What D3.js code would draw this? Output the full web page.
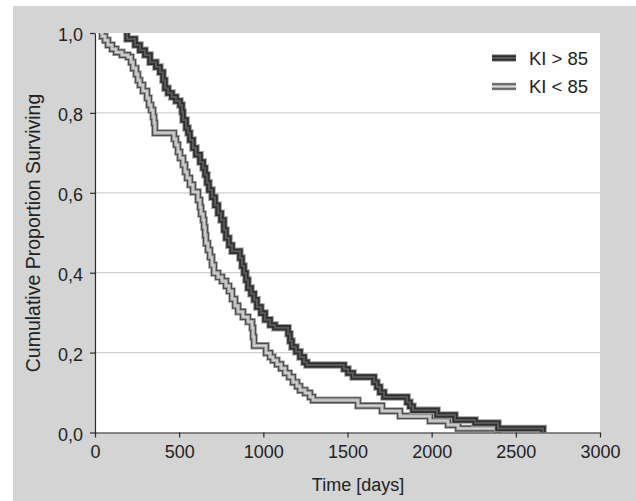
<!DOCTYPE html>
<html>
<head>
<meta charset="utf-8">
<script src="https://cdn.jsdelivr.net/npm/d3@7"></script>
<style>
  html, body { margin: 0; padding: 0; background: #ffffff; }
  svg { display: block; font-family: "Liberation Sans", Arial, Helvetica, sans-serif; }
</style>
</head>
<body>
<svg id="chart" width="636" height="501"></svg>
<script>
// Kaplan–Meier survival estimates, two Karnofsky-index groups.
// Each curve: start time at 100 % survival, then [day, proportion after the drop].
const groups = ["KI > 85", "KI < 85"];

const startHigh = 190;
const stepsHigh = [
  [190, 0.985], [238, 0.970], [267, 0.957], [297, 0.945], [327, 0.927],
  [362, 0.915], [386, 0.902], [404, 0.882], [416, 0.862], [434, 0.850],
  [457, 0.840], [481, 0.830], [505, 0.820], [517, 0.802], [523, 0.782],
  [541, 0.762], [553, 0.750], [564, 0.732], [582, 0.712], [600, 0.695],
  [624, 0.677], [642, 0.662], [654, 0.645], [665, 0.625], [677, 0.607],
  [695, 0.589], [713, 0.569], [731, 0.549], [749, 0.532], [766, 0.507],
  [778, 0.487], [796, 0.469], [814, 0.454], [861, 0.437], [873, 0.417],
  [885, 0.399], [897, 0.382], [909, 0.362], [927, 0.347], [945, 0.332],
  [962, 0.314], [986, 0.299], [1010, 0.282], [1040, 0.269], [1069, 0.262],
  [1147, 0.247], [1158, 0.229], [1170, 0.214], [1194, 0.202], [1218, 0.189],
  [1242, 0.176], [1259, 0.169], [1479, 0.159], [1503, 0.149], [1533, 0.139],
  [1658, 0.126], [1675, 0.114], [1693, 0.101], [1717, 0.089], [1854, 0.076],
  [1871, 0.066], [1889, 0.056], [2032, 0.044], [2139, 0.031], [2258, 0.024],
  [2394, 0.010], [2662, 0.000]
];

const startLow = 30;
const stepsLow = [
  [42, 0.992], [59, 0.982], [77, 0.970], [101, 0.960], [125, 0.952],
  [160, 0.945], [196, 0.940], [214, 0.927], [226, 0.912], [244, 0.897],
  [255, 0.882], [267, 0.870], [285, 0.855], [309, 0.837], [321, 0.820],
  [333, 0.807], [345, 0.790], [351, 0.775], [356, 0.750], [469, 0.735],
  [481, 0.720], [493, 0.702], [505, 0.687], [523, 0.670], [535, 0.652],
  [547, 0.637], [564, 0.620], [582, 0.602], [612, 0.582], [624, 0.564],
  [630, 0.547], [642, 0.532], [648, 0.514], [654, 0.494], [659, 0.474],
  [671, 0.457], [683, 0.439], [695, 0.419], [707, 0.399], [731, 0.389],
  [754, 0.379], [778, 0.367], [796, 0.354], [814, 0.334], [832, 0.317],
  [850, 0.302], [879, 0.289], [909, 0.277], [933, 0.262], [939, 0.239],
  [945, 0.217], [1016, 0.199], [1040, 0.189], [1057, 0.181], [1081, 0.171],
  [1105, 0.161], [1129, 0.149], [1153, 0.139], [1176, 0.126], [1200, 0.116],
  [1218, 0.106], [1248, 0.099], [1277, 0.089], [1295, 0.081], [1562, 0.067],
  [1705, 0.054], [1812, 0.041], [1990, 0.029], [2097, 0.019], [2157, 0.010],
  [2394, 0.000]
];

const xTicks = [0, 500, 1000, 1500, 2000, 2500, 3000];
const yTicks = [0, 0.2, 0.4, 0.6, 0.8, 1.0];
const yGrid = [0.2, 0.4, 0.6, 0.8];

const svg = d3.select("#chart");
const W = 636, H = 501;
const plot = { left: 95, right: 600, top: 33, bottom: 432.5 };

// grey frame and white plotting area
svg.append("rect").attr("x", 13).attr("y", 6).attr("width", W - 13).attr("height", H - 6)
  .attr("fill", "#d4d4d5");
svg.append("rect").attr("x", plot.left).attr("y", plot.top)
  .attr("width", plot.right - plot.left).attr("height", plot.bottom - plot.top)
  .attr("fill", "#ffffff");

const x = d3.scaleLinear().domain([0, 3000]).range([plot.left, plot.right]);
const y = d3.scaleLinear().domain([0, 1]).range([plot.bottom, plot.top]);

// horizontal grid
svg.append("g").selectAll("line").data(yGrid).join("line")
  .attr("x1", plot.left).attr("x2", plot.right)
  .attr("y1", d => y(d)).attr("y2", d => y(d))
  .attr("stroke", "#cfcfcf").attr("stroke-width", 1.3);

// curves, clipped to the plotting area
svg.append("clipPath").attr("id", "plotClip").append("rect")
  .attr("x", plot.left).attr("y", plot.top)
  .attr("width", plot.right - plot.left).attr("height", plot.bottom - plot.top);

const line = d3.line().x(d => x(d[0])).y(d => y(d[1])).curve(d3.curveStepAfter);

// each curve is a "tube": wide outer stroke, band, thin core
const styles = {
  "KI > 85": [["#9a9a9a", 7.5], ["#2e2e2e", 5.5], ["#595959", 2]],
  "KI < 85": [["#9d9d9d", 7.5], ["#4e4e4e", 6], ["#a8a8a8", 3.6], ["#d6d6d6", 1.4]]
};

const series = [
  { name: groups[0], pts: [[startHigh, 1]].concat(stepsHigh) },
  { name: groups[1], pts: [[startLow, 1]].concat(stepsLow) }
];

const curves = svg.append("g").attr("clip-path", "url(#plotClip)");
// draw the low group first so the high group sits on top
series.slice().reverse().forEach(s => {
  const g = curves.append("g");
  styles[s.name].forEach(([c, w]) => {
    g.append("path").attr("d", line(s.pts)).attr("fill", "none")
      .attr("stroke", c).attr("stroke-width", w)
      .attr("stroke-linejoin", "miter").attr("stroke-linecap", "butt");
  });
});

// axes
const axisColor = "#2a2a2a";
const fmtY = d => d3.format(".1f")(d).replace(".", ",");

const xAxis = svg.append("g").attr("transform", `translate(0,${plot.bottom})`)
  .call(d3.axisBottom(x).tickValues(xTicks).tickFormat(d3.format("d"))
    .tickSize(5).tickSizeOuter(0).tickPadding(8));
const yAxis = svg.append("g").attr("transform", `translate(${plot.left},0)`)
  .call(d3.axisLeft(y).tickValues(yTicks).tickFormat(fmtY)
    .tickSize(5).tickSizeOuter(0).tickPadding(7));

[xAxis, yAxis].forEach(a => {
  a.select(".domain").attr("stroke", axisColor).attr("stroke-width", 1.2);
  a.selectAll(".tick line").attr("stroke", axisColor).attr("stroke-width", 1.2);
  a.selectAll(".tick text").attr("fill", "#222").attr("font-size", 18)
    .attr("font-family", "'Liberation Sans', Arial, sans-serif");
});
yAxis.selectAll(".tick text").attr("dy", "0.42em");

// axis titles
svg.append("text").attr("x", 358).attr("y", 491).attr("text-anchor", "middle")
  .attr("font-size", 18).attr("fill", "#222").text("Time [days]");
svg.append("text").attr("transform", "translate(40,233) rotate(-90)")
  .attr("text-anchor", "middle").attr("font-size", 19.5).attr("fill", "#222")
  .text("Cumulative Proportion Surviving");

// legend
const legend = svg.append("g");
series.forEach((s, i) => {
  const ly = 58 + i * 28.5;
  const g = legend.append("g");
  styles[s.name].forEach(([c, w]) => {
    g.append("line").attr("x1", 492).attr("x2", 516).attr("y1", ly).attr("y2", ly)
      .attr("stroke", c).attr("stroke-width", w);
  });
  legend.append("text").attr("x", 529).attr("y", ly).attr("dy", "0.36em")
    .attr("font-size", 18.5).attr("fill", "#222").text(s.name);
});
</script>
</body>
</html>
